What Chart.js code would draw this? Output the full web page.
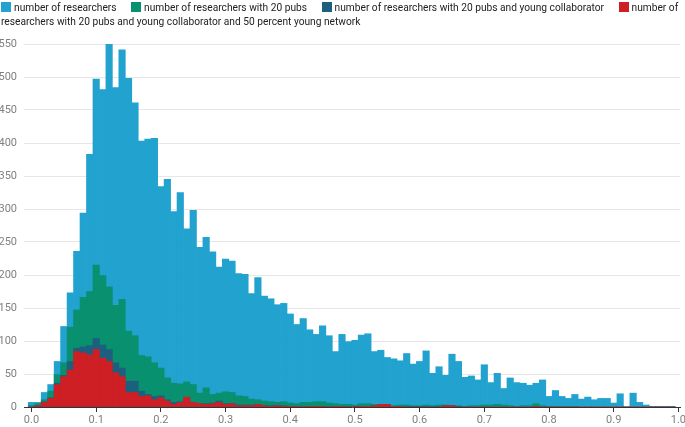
<!DOCTYPE html>
<html><head><meta charset="utf-8">
<script src="https://cdn.jsdelivr.net/npm/chart.js@4.4.1/dist/chart.umd.min.js"></script>
<style>
html,body{margin:0;padding:0;background:#fff;}
#wrap{position:relative;width:685px;height:427px;overflow:hidden;}
#legend{position:absolute;left:1px;top:1px;width:684px;font-family:Roboto,sans-serif;font-size:10.2px;line-height:14px;color:#222;}
.sw{display:inline-block;width:10px;height:10px;margin-right:3px;vertical-align:-1px;}
.item{margin-right:12px;}
canvas{position:absolute;left:0;top:0;}
</style></head>
<body><div id="wrap"><canvas id="c" width="685" height="427"></canvas><div id="legend"></div></div>
<script>
const bins = [0.00,0.01,0.02,0.03,0.04,0.05,0.06,0.07,0.08,0.09,
0.10,0.11,0.12,0.13,0.14,0.15,0.16,0.17,0.18,0.19,
0.20,0.21,0.22,0.23,0.24,0.25,0.26,0.27,0.28,0.29,
0.30,0.31,0.32,0.33,0.34,0.35,0.36,0.37,0.38,0.39,
0.40,0.41,0.42,0.43,0.44,0.45,0.46,0.47,0.48,0.49,
0.50,0.51,0.52,0.53,0.54,0.55,0.56,0.57,0.58,0.59,
0.60,0.61,0.62,0.63,0.64,0.65,0.66,0.67,0.68,0.69,
0.70,0.71,0.72,0.73,0.74,0.75,0.76,0.77,0.78,0.79,
0.80,0.81,0.82,0.83,0.84,0.85,0.86,0.87,0.88,0.89,
0.90,0.91,0.92,0.93,0.94,0.95,0.96,0.97,0.98,0.99];

const allResearchers = [7,7,22,34,69,122,173,236,294,383,
497,481,551,484,541,498,461,403,406,407,
334,345,296,325,270,298,242,257,235,212,
224,221,202,201,172,196,168,164,155,157,
141,125,134,117,110,123,108,84,110,99,
101,109,111,84,86,75,73,70,81,65,
69,85,51,61,48,80,69,45,47,41,
64,37,51,28,44,37,36,33,36,41,
16,25,16,13,19,12,15,11,13,13,
6,20,0,21,7,3,1,1,1,1];

const with20Pubs = [2,5,11,24,49,67,121,147,166,175,
215,199,182,154,163,115,108,78,76,67,
59,44,36,35,38,34,21,29,19,21,
23,22,17,16,12,11,9,8,7,8,
6,5,7,7,8,8,6,5,4,4,
3,5,5,4,3,3,2,3,3,2,
2,3,2,3,3,2,2,1,2,2,
3,3,4,3,2,1,2,2,5,2,
1,1,1,1,1,0,0,0,0,0,
0,0,0,0,0,0,0,0,0,0];

const withYoungCollab = [0,2,8,14,36,48,69,89,91,93,
104,94,87,67,59,39,39,24,19,16,
17,11,7,8,11,7,5,5,6,9,
5,5,3,3,3,4,2,2,2,2,
1,1,1,1,1,1,1,1,1,1,
1,1,1,2,4,4,1,1,1,1,
1,1,1,1,2,2,1,0,0,0,
0,0,0,0,0,0,0,0,1,0,
0,0,0,0,0,0,0,0,0,0,
0,0,0,0,0,0,0,0,0,0];

const withYoungNetwork = [0,2,7,13,34,46,56,84,82,79,
87,74,69,52,46,22,22,16,17,11,
14,9,4,7,15,7,5,4,5,7,
4,5,2,2,2,4,2,1,2,1,
1,1,0,1,1,1,0,1,1,0,
1,1,1,2,4,4,1,1,0,0,
0,0,0,0,2,2,0,0,0,0,
0,0,0,0,0,0,0,0,1,0,
0,0,0,0,0,0,0,0,0,0,
0,0,0,0,0,0,0,0,0,0];

const seriesNames = ['number of researchers','number of researchers with 20 pubs','number of researchers with 20 pubs and young collaborator','number of researchers with 20 pubs and young collaborator and 50 percent young network'];
const seriesColors = ['#21a2cf','#08906f','#1d5f7f','#cd1f24'];
const xTicks = [0.0,0.1,0.2,0.3,0.4,0.5,0.6,0.7,0.8,0.9,1.0];
const yTicks = [0,50,100,150,200,250,300,350,400,450,500,550];

const seriesValues = [allResearchers, with20Pubs, withYoungCollab, withYoungNetwork];
const datasets = seriesValues.map((vals, k) => ({
  label: seriesNames[k],
  data: bins.map((x, i) => ({x: x, y: vals[i]})),
  backgroundColor: seriesColors[k],
  borderWidth: 0,
  grouped: false,
  barPercentage: 1,
  categoryPercentage: 1,
  order: 4 - k
}));

const tickFont = {family: 'Roboto', size: 11};
const chart = new Chart(document.getElementById('c'), {
  type: 'bar',
  data: {datasets: datasets},
  options: {
    responsive: false,
    animation: false,
    devicePixelRatio: 1,
    layout: {padding: {top: 44, right: 5, left: 0, bottom: 0}},
    plugins: {legend: {display: false}, tooltip: {enabled: false}},
    scales: {
      x: {
        type: 'linear', min: -0.0116, max: 1.0025, offset: false,
        afterBuildTicks: s => { s.ticks = xTicks.map(v => ({value: v})); },
        afterFit: s => { s.height = 20; s.paddingLeft = 0; s.paddingRight = 0; },
        ticks: {callback: v => Number(v).toFixed(1), color: '#808080', font: tickFont, padding: 2, maxRotation: 0, autoSkip: false},
        grid: {offset: false, drawOnChartArea: false, drawTicks: true, tickLength: 5, tickColor: '#333'},
        border: {display: true, color: '#333', z: 1}
      },
      y: {
        min: 0, max: 550,
        afterBuildTicks: s => { s.ticks = yTicks.map(v => ({value: v})); },
        afterFit: s => { s.width = 24; },
        ticks: {color: '#808080', font: tickFont, padding: 7},
        grid: {color: c => (c.tick && c.tick.value === 0) ? 'rgba(0,0,0,0)' : '#e6e6e6', drawTicks: false},
        border: {display: false}
      }
    }
  }
});

// HTML legend built from the chart's datasets (flows and wraps like the original)
const leg = document.getElementById('legend');
chart.data.datasets.forEach(ds => {
  const item = document.createElement('span');
  item.className = 'item';
  const sw = document.createElement('span');
  sw.className = 'sw';
  sw.style.background = ds.backgroundColor;
  item.appendChild(sw);
  item.appendChild(document.createTextNode(ds.label));
  leg.appendChild(item);
  leg.appendChild(document.createTextNode(' '));
});
</script>
</body></html>
